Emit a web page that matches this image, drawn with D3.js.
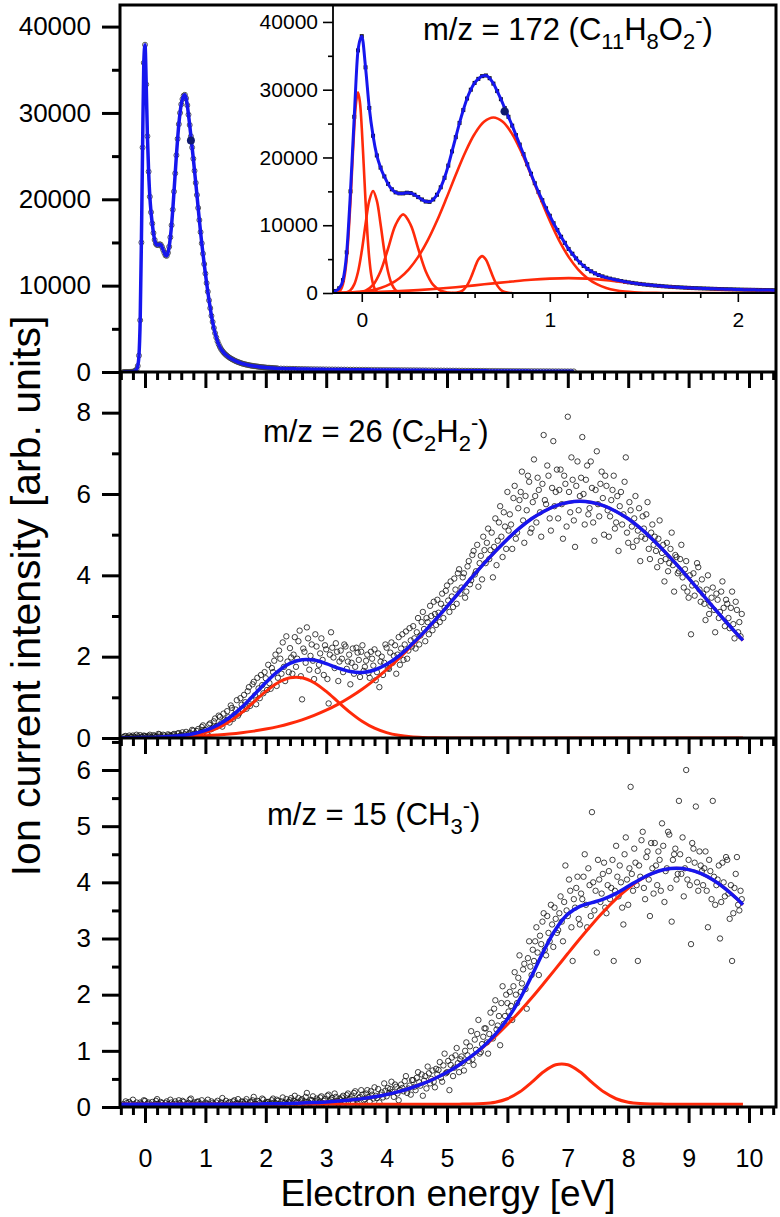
<!DOCTYPE html>
<html>
<head>
<meta charset="utf-8">
<script src="https://cdn.jsdelivr.net/npm/d3@7"></script>
<style>
  body { margin: 0; background: #fff; }
  svg { display: block; font-family: "Liberation Sans", Arial, sans-serif; }
</style>
</head>
<body>
<svg width="780" height="1217"></svg>
<script>
// ---------------- data ----------------
// m/z 172 spectrum, fine scan (-0.36 .. 2.20 eV, 0.02 eV step)
var scan172Start = -0.36, scan172Step = 0.02;
var counts172 = [
  0,0,0,0,0,0,10,20,40,80,
  150,300,700,1900,6000,15000,26000,35800,37900,33300,
  27300,23200,20300,18500,17200,16100,15300,14850,14700,14700,
  14800,14750,14500,14150,13800,13500,13450,13800,14500,15600,
  17000,18800,20900,23000,25100,27000,28700,30000,31000,31600,
  32000,32100,31700,30900,29800,28600,27300,26000,24700,23300,
  21900,20500,19000,17600,16200,14900,13700,12500,11400,10300,
  9300,8300,7400,6500,5800,5100,4500,4000,3550,3200,
  2900,2650,2450,2270,2120,1990,1870,1760,1660,1570,
  1490,1410,1340,1270,1210,1150,1100,1050,1000,960,
  920,880,850,820,790,760,730,710,690,670,
  650,630,610,590,575,560,545,530,515,500,
  490,480,470,460,450,440,430,420,410
];
// m/z 172 tail (2.25 .. 7.10 eV, 0.05 eV step)
var tail172Start = 2.25, tail172Step = 0.05;
var tail172 = [
  400,392,384,376,369,362,355,348,342,336,330,324,319,314,309,304,299,294,290,286,
  282,278,274,270,266,262,258,255,252,248,245,242,239,236,233,230,227,224,221,218,
  215,212,209,206,203,200,197,194,191,188,185,182,179,176,173,170,167,164,161,158,
  155,152,149,146,143,140,137,134,131,128,126,124,122,120,118,116,114,112,110,108,
  106,104,102,100,98,96,94,92,90,88,86,84,82,80,78,76,74,72
];
var marked172 = [0.76, 26800];

// fitted components of m/z 172 (inset), [energy, counts]
var comp172a = [[-0.16,0],[-0.15,8],[-0.14,26],[-0.13,80],[-0.12,224],[-0.11,567],[-0.10,1300],[-0.09,2710],[-0.08,5100],[-0.07,8730],[-0.06,13550],[-0.05,19070],[-0.04,24350],[-0.03,28190],[-0.02,29600],[-0.01,28190],[0.00,24350],[0.01,19070],[0.02,13550],[0.03,8730],[0.04,5100],[0.05,2710],[0.06,1300],[0.07,567],[0.08,224],[0.09,80],[0.10,26],[0.11,8],[0.12,0]];
var comp172b = [[-0.12,0],[-0.10,27],[-0.08,119],[-0.06,430],[-0.04,1270],[-0.02,3100],[0.00,6190],[0.02,10140],[0.04,13630],[0.06,15050],[0.08,13630],[0.10,10140],[0.12,6190],[0.14,3100],[0.16,1270],[0.18,430],[0.20,119],[0.22,27],[0.24,0]];
var comp172c = [[-0.06,11],[-0.02,70],[0.02,330],[0.06,1190],[0.10,3220],[0.14,6570],[0.18,10060],[0.22,11600],[0.26,10060],[0.30,6570],[0.34,3220],[0.38,1190],[0.42,330],[0.46,70],[0.50,11]];
var comp172d = [[0.48,10],[0.50,43],[0.52,156],[0.54,460],[0.56,1120],[0.58,2240],[0.60,3670],[0.62,4930],[0.64,5440],[0.66,4930],[0.68,3670],[0.70,2240],[0.72,1120],[0.74,460],[0.76,156],[0.78,43],[0.80,10]];
var comp172e = [[-0.15,20],[-0.10,47],[-0.05,100],[0.00,205],[0.05,400],[0.10,740],[0.15,1300],[0.20,2190],[0.25,3500],[0.30,5330],[0.35,7720],[0.40,10650],[0.45,13970],[0.50,17450],[0.55,20740],[0.60,23460],[0.65,25270],[0.70,25900],[0.75,25270],[0.80,23460],[0.85,20740],[0.90,17450],[0.95,13970],[1.00,10650],[1.05,7720],[1.10,5330],[1.15,3500],[1.20,2190],[1.25,1300],[1.30,740],[1.35,400],[1.40,205],[1.45,100],[1.50,47],[1.55,20],[1.60,8],[1.80,0],[2.20,0]];
var comp172f = [[-0.15,0],[0.0,80],[0.1,160],[0.2,280],[0.3,430],[0.4,620],[0.5,860],[0.6,1130],[0.7,1420],[0.8,1700],[0.9,1950],[1.0,2120],[1.1,2200],[1.2,2120],[1.3,1900],[1.4,1600],[1.5,1270],[1.6,980],[1.7,800],[1.8,670],[1.9,570],[2.0,500],[2.1,445],[2.2,400]];

// m/z 26 and m/z 15 scans (-0.36 .. 9.88 eV, 0.02 eV step)
var scanStart = -0.36, scanStep = 0.02;
var ions26 = [
  0.02,0.04,0.05,0.01,0.00,0.06,0.03,0.02,0.06,0.03,0.01,0.08,0.04,0.00,0.07,0.03,0.02,0.06,0.05,0.02,
  0.03,0.05,0.08,0.02,0.01,0.07,0.05,0.03,0.04,0.10,0.09,0.04,0.02,0.08,0.06,0.01,0.03,0.09,0.07,0.05,
  0.05,0.08,0.10,0.03,0.04,0.11,0.12,0.06,0.07,0.14,0.03,0.09,0.15,0.05,0.09,0.13,0.06,0.20,0.18,0.11,
  0.10,0.17,0.22,0.09,0.14,0.27,0.31,0.20,0.19,0.12,0.08,0.33,0.36,0.22,0.25,0.41,0.48,0.28,0.30,0.55,
  0.52,0.36,0.28,0.60,0.45,0.42,0.66,0.51,0.38,0.80,0.74,0.47,0.57,0.70,0.93,0.55,0.61,0.98,0.82,0.69,
  1.06,0.88,0.72,1.15,1.25,0.79,0.95,1.32,1.38,1.05,0.83,1.48,1.22,0.98,1.55,1.30,1.10,1.62,1.47,1.18,
  1.80,1.35,1.21,1.72,1.62,1.90,2.05,1.28,1.48,2.15,1.95,1.58,2.35,1.75,1.40,2.50,1.88,1.62,2.21,1.98,
  1.58,2.05,2.48,1.75,1.95,2.38,2.64,1.52,0.95,2.20,2.12,1.85,2.72,2.45,1.68,2.02,2.30,1.90,1.45,2.55,
  2.25,1.65,1.80,2.08,2.45,1.92,1.55,2.28,2.18,1.45,0.85,2.05,2.60,2.22,1.98,1.72,2.33,2.12,1.40,1.88,
  2.15,1.95,1.62,2.30,2.25,1.70,1.88,2.05,1.32,1.85,2.20,1.58,1.75,2.22,2.10,1.92,1.50,2.12,2.28,1.65,
  1.75,1.90,2.05,1.60,1.48,2.12,1.95,1.78,2.18,1.42,1.62,2.08,1.25,1.88,2.00,1.55,1.85,2.30,2.22,1.72,
  1.70,2.10,2.35,1.85,2.02,2.28,1.58,2.05,2.48,1.80,2.20,2.55,1.92,2.30,2.62,1.95,2.15,2.70,2.40,2.25,
  2.75,2.45,2.20,2.60,2.95,2.30,2.52,2.85,3.10,2.68,2.38,2.95,2.85,2.55,3.25,3.00,2.65,3.35,3.05,2.78,
  3.40,3.08,2.85,3.30,3.55,2.95,3.20,3.62,3.75,3.38,3.10,3.85,3.48,3.22,3.92,3.65,3.30,4.05,4.15,3.55,
  3.70,3.95,4.05,3.45,3.60,4.22,4.35,3.78,3.88,4.50,4.60,4.02,4.10,4.75,3.72,4.30,4.48,3.90,4.95,4.62,
  4.30,4.80,5.15,4.40,4.62,5.05,3.95,4.70,5.40,4.25,4.85,5.30,5.70,4.95,4.45,5.55,5.20,4.65,6.05,5.10,
  5.50,5.25,4.65,5.90,6.20,4.90,5.05,5.65,5.85,6.05,6.55,5.35,4.80,5.95,5.60,6.45,6.30,5.05,5.15,5.80,
  6.85,5.95,5.30,6.40,6.10,5.55,4.95,6.25,7.45,5.85,5.75,6.70,6.45,5.40,5.10,6.15,7.30,5.70,6.05,6.60,
  5.40,6.10,6.60,5.75,4.90,6.45,6.25,5.20,7.90,6.05,5.55,6.90,6.35,5.35,4.70,6.20,6.80,5.60,5.95,6.40,
  7.40,6.00,5.25,6.35,6.70,5.50,5.65,6.80,6.15,5.30,4.85,6.10,7.05,5.75,5.45,6.25,6.55,5.90,5.00,6.45,
  6.20,5.60,4.95,5.45,5.85,6.10,6.45,5.15,5.30,5.95,4.60,5.70,6.05,5.25,5.50,6.30,6.90,5.05,4.80,5.80,
  5.60,5.20,4.70,5.40,5.95,4.85,5.10,5.65,4.35,4.95,5.45,5.15,4.90,5.50,5.80,4.65,4.40,5.05,5.25,4.75,
  4.95,4.60,4.20,4.90,5.35,4.35,4.55,4.75,3.85,4.40,4.80,4.10,4.30,4.65,5.05,4.25,3.60,4.50,4.45,4.05,
  4.10,4.40,4.75,3.95,3.70,4.15,4.35,3.60,3.45,4.00,2.55,3.75,4.05,3.50,3.80,4.30,4.20,3.65,3.35,3.90,
  3.55,3.30,2.90,3.65,4.00,3.05,3.25,3.45,3.70,3.15,2.60,3.55,3.40,2.95,3.10,3.60,3.85,3.20,2.75,3.40,
  3.30,2.95,2.70,3.20,3.60,2.80,2.45,3.35,3.15,2.60,2.85,2.50,3.05
];
var ions15 = [
  0.05,0.03,0.10,0.07,0.02,0.09,0.06,0.01,0.13,0.05,0.04,0.08,0.00,0.04,0.08,0.06,0.03,0.12,0.11,0.02,
  0.06,0.08,0.01,0.04,0.09,0.02,0.05,0.11,0.14,0.06,0.03,0.09,0.07,0.03,0.00,0.07,0.10,0.05,0.04,0.13,
  0.08,0.05,0.02,0.10,0.06,0.03,0.12,0.07,0.04,0.11,0.09,0.02,0.01,0.06,0.07,0.13,0.15,0.04,0.05,0.08,
  0.03,0.09,0.10,0.05,0.06,0.12,0.00,0.04,0.08,0.06,0.13,0.02,0.04,0.10,0.07,0.05,0.02,0.08,0.11,0.03,
  0.05,0.08,0.16,0.04,0.06,0.11,0.02,0.07,0.09,0.03,0.04,0.10,0.12,0.06,0.07,0.14,0.01,0.05,0.10,0.09,
  0.06,0.10,0.14,0.04,0.03,0.09,0.08,0.12,0.18,0.06,0.05,0.11,0.10,0.07,0.02,0.15,0.13,0.05,0.07,0.09,
  0.09,0.06,0.04,0.12,0.15,0.08,0.07,0.13,0.11,0.05,0.02,0.10,0.17,0.07,0.08,0.14,0.05,0.09,0.12,0.16,
  0.06,0.11,0.20,0.08,0.09,0.16,0.03,0.12,0.14,0.07,0.10,0.18,0.25,0.09,0.07,0.13,0.12,0.19,0.04,0.10,
  0.15,0.12,0.08,0.17,0.19,0.07,0.11,0.14,0.05,0.20,0.22,0.10,0.13,0.16,0.09,0.24,0.18,0.11,0.06,0.15,
  0.12,0.17,0.20,0.11,0.08,0.21,0.24,0.14,0.15,0.19,0.10,0.25,0.28,0.13,0.06,0.16,0.18,0.30,0.22,0.12,
  0.14,0.24,0.30,0.18,0.10,0.28,0.22,0.15,0.35,0.20,0.16,0.32,0.08,0.22,0.26,0.17,0.42,0.29,0.19,0.34,
  0.25,0.32,0.45,0.27,0.18,0.40,0.36,0.24,0.12,0.30,0.40,0.34,0.28,0.46,0.55,0.25,0.33,0.38,0.22,0.48,
  0.48,0.36,0.30,0.52,0.62,0.44,0.38,0.58,0.20,0.47,0.55,0.33,0.72,0.60,0.42,0.50,0.65,0.45,0.35,0.68,
  0.58,0.66,0.80,0.52,0.45,0.74,0.95,0.60,0.62,0.82,0.30,0.75,0.88,0.55,0.70,0.92,1.05,0.78,0.62,0.85,
  0.90,0.78,0.65,1.00,1.15,0.92,0.82,1.08,1.35,0.85,0.75,1.20,1.02,1.30,1.55,0.95,0.98,1.12,1.25,1.40,
  1.40,1.15,0.95,1.30,1.68,1.50,1.22,1.75,1.90,1.38,1.45,1.62,1.10,1.85,2.15,1.48,1.62,2.00,1.85,1.70,
  2.05,1.80,1.55,2.15,2.40,2.00,1.85,2.30,2.70,2.05,2.20,2.45,2.55,2.10,1.75,2.65,2.95,2.50,2.35,2.80,
  2.60,2.95,3.20,2.75,2.35,3.05,2.90,3.30,3.45,2.80,2.70,3.40,3.10,2.95,3.60,3.25,2.85,3.55,3.35,3.10,
  3.15,3.45,3.75,3.30,2.95,3.65,4.30,3.50,3.40,4.05,3.85,3.20,2.60,3.70,3.55,3.90,4.10,3.35,3.25,3.80,
  3.70,4.10,4.50,3.60,3.20,4.25,3.95,3.40,5.25,4.00,3.50,3.85,2.75,4.40,4.05,3.65,3.80,4.15,4.35,3.55,
  3.45,3.95,4.20,3.70,3.90,4.40,2.60,3.85,4.65,4.10,3.75,4.30,4.00,3.55,3.25,4.50,4.80,4.05,3.60,4.25,
  5.70,4.15,3.85,4.60,4.35,3.95,2.60,4.30,4.10,4.75,4.90,3.90,3.70,4.45,4.55,4.05,3.40,4.70,4.25,3.80,
  4.70,4.30,3.95,4.55,4.40,3.85,5.05,4.65,3.65,4.20,4.25,4.90,4.85,3.90,3.30,4.40,4.50,4.60,4.05,4.15,
  5.45,4.50,4.15,4.80,3.75,4.25,6.00,4.05,4.40,3.95,2.90,4.70,4.60,4.35,5.35,4.00,3.85,4.55,4.30,4.20,
  3.95,4.25,4.55,3.85,3.20,4.40,4.20,3.70,5.45,4.10,3.60,3.95,4.05,4.30,3.00,3.65,4.35,4.00,3.75,4.45,
  4.40,3.80,3.35,3.95,2.60,3.45,3.90,4.15,4.45,3.60,3.50,3.85,3.70
];

// fit curves for m/z 26 and m/z 15, read at these energies
var fitEnergy = [-0.4,-0.2,0,0.2,0.4,0.6,0.8,1,1.2,1.4,1.6,1.8,2,2.2,2.4,2.6,2.8,3,3.2,3.4,3.6,3.8,4,4.2,4.4,4.6,4.8,5,5.2,5.4,5.6,5.8,6,6.2,6.4,6.6,6.8,7,7.2,7.4,7.6,7.8,8,8.2,8.4,8.6,8.8,9,9.2,9.4,9.6,9.8,9.9];
var fit26Peak1 = [0,0.001,0.002,0.005,0.013,0.030,0.066,0.132,0.241,0.406,0.625,0.883,1.145,1.36,1.48,1.48,1.36,1.145,0.883,0.625,0.406,0.241,0.132,0.066,0.030,0.013,0.005,0.002,
  0,0,0,0,0,0,0,0,0,0,0,0,0,0,0,0,0,0,0,0,0,0,0,0,0];
var fit26Peak2 = [0.005,0.008,0.011,0.015,0.021,0.029,0.040,0.055,0.074,0.098,0.129,0.169,0.219,0.280,0.356,0.446,0.556,0.684,0.834,1.009,1.207,1.431,1.68,1.95,2.25,2.56,2.89,3.23,
  3.58,3.93,4.27,4.59,4.89,5.16,5.39,5.57,5.71,5.79,5.82,5.79,5.71,5.57,5.39,5.16,4.89,4.59,4.27,3.93,3.58,3.23,2.89,2.56,2.40];
var fit26Total = [0.005,0.009,0.013,0.020,0.034,0.059,0.106,0.187,0.315,0.504,0.754,1.052,1.364,1.64,1.836,1.926,1.916,1.829,1.717,1.634,1.613,1.672,1.812,2.016,2.28,2.573,2.895,3.232,
  3.58,3.93,4.27,4.59,4.89,5.16,5.39,5.57,5.71,5.79,5.82,5.79,5.71,5.57,5.39,5.16,4.89,4.59,4.27,3.93,3.58,3.23,2.89,2.56,2.40];
var fit15Peak1 = [0.05,0.05,0.05,0.05,0.05,0.05,0.05,0.05,0.05,0.05,0.05,0.05,
  0.057,0.060,0.064,0.071,0.079,0.090,0.105,0.124,0.149,0.182,0.223,0.274,0.338,0.415,0.508,0.618,
  0.748,0.897,1.067,1.257,1.468,1.697,1.941,2.199,2.464,2.732,2.996,3.251,3.491,3.707,3.894,4.045,4.158,4.227,
  4.25,4.227,4.158,4.045,3.894,3.707,3.602];
var fit15Peak2 = [0.05,0.05,0.05,0.05,0.05,0.05,0.05,0.05,0.05,0.05,0.05,0.05,0.05,0.05,0.05,0.05,0.05,0.05,0.05,0.05,0.05,0.05,0.05,0.05,0.05,0.05,0.05,0.05,
  0.051,0.053,0.061,0.086,0.147,0.265,0.438,0.627,0.752,0.752,0.627,0.438,0.265,0.147,0.086,0.061,0.053,0.051,
  0.05,0.05,0.05,0.05,0.05,0.05,0.05];
var fit15Total = [0.05,0.05,0.05,0.05,0.05,0.05,0.05,0.05,0.05,0.05,0.05,0.05,
  0.057,0.060,0.064,0.071,0.079,0.090,0.105,0.124,0.149,0.182,0.223,0.274,0.338,0.415,0.508,0.618,
  0.749,0.900,1.078,1.293,1.565,1.912,2.329,2.776,3.166,3.434,3.573,3.639,3.706,3.804,3.930,4.056,4.161,4.228,
  4.25,4.227,4.158,4.045,3.894,3.707,3.602];

// ---------------- layout ----------------
var blue = "#1616ee", red = "#ff2a0a";
var L = 120, R = 776, T = 5;
var yCut = [372, 738, 1107];

var svg = d3.select("svg");
var defs = svg.append("defs");

var x = d3.scaleLinear().domain([-0.414, 10.447]).range([L, R]);
var yTop = d3.scaleLinear().domain([0, 42500]).range([yCut[0], T]);
var yMid = d3.scaleLinear().domain([0, 9.0]).range([yCut[1], yCut[0]]);
var yBot = d3.scaleLinear().domain([0, 6.57]).range([yCut[2], yCut[1]]);
var xIn = d3.scaleLinear().domain([-0.153, 2.203]).range([333, R]);
var yIn = d3.scaleLinear().domain([0, 42500]).range([293, T]);

function clip(id, x0, y0, w, h) {
  defs.append("clipPath").attr("id", id).append("rect")
    .attr("x", x0).attr("y", y0).attr("width", w).attr("height", h);
}
clip("cTop", L, T, R - L, yCut[0] - T);
clip("cMid", L, yCut[0], R - L, yCut[1] - yCut[0]);
clip("cBot", L, yCut[1], R - L, yCut[2] - yCut[1]);
clip("cIn", 333, T, R - 333, 293 - T);

var pts172 = counts172.map(function(v, i) { return [scan172Start + i * scan172Step, v]; })
  .concat(tail172.map(function(v, i) { return [tail172Start + i * tail172Step, v]; }));
var pts26 = ions26.map(function(v, i) { return [scanStart + i * scanStep, v]; });
var pts15 = ions15.map(function(v, i) { return [scanStart + i * scanStep, v]; });
function pairs(arr) { return fitEnergy.map(function(e, i) { return [e, arr[i]]; }); }

function lineOf(sx, sy, smooth) {
  return d3.line().x(function(d) { return sx(d[0]); }).y(function(d) { return sy(d[1]); })
    .curve(smooth ? d3.curveCatmullRom.alpha(0.5) : d3.curveMonotoneX);
}

// ---------- top panel (m/z 172, full range) ----------
var gTop = svg.append("g").attr("clip-path", "url(#cTop)");
gTop.selectAll("circle").data(pts172).enter().append("circle")
  .attr("cx", function(d) { return x(d[0]); })
  .attr("cy", function(d) { return yTop(d[1]); })
  .attr("r", 2.5).attr("fill", "none").attr("stroke", "#444").attr("stroke-width", 0.9);
gTop.append("path").datum(pts172).attr("d", lineOf(x, yTop))
  .attr("fill", "none").attr("stroke", blue).attr("stroke-width", 3.5);
gTop.append("circle").attr("cx", x(marked172[0])).attr("cy", yTop(marked172[1]))
  .attr("r", 4).attr("fill", "#101a70");

// ---------- middle (m/z 26) and bottom (m/z 15) panels ----------
function scatterPanel(clipId, pts, sy, comps, total) {
  var g = svg.append("g").attr("clip-path", "url(#" + clipId + ")");
  g.selectAll("circle").data(pts).enter().append("circle")
    .attr("cx", function(d) { return x(d[0]); })
    .attr("cy", function(d) { return sy(d[1]); })
    .attr("r", 2.7).attr("fill", "none").attr("stroke", "#111").attr("stroke-width", 0.8);
  comps.forEach(function(c) {
    g.append("path").datum(pairs(c)).attr("d", lineOf(x, sy, true))
      .attr("fill", "none").attr("stroke", red).attr("stroke-width", 3);
  });
  g.append("path").datum(pairs(total)).attr("d", lineOf(x, sy, true))
    .attr("fill", "none").attr("stroke", blue).attr("stroke-width", 3.5);
}
scatterPanel("cMid", pts26, yMid, [fit26Peak1, fit26Peak2], fit26Total);
scatterPanel("cBot", pts15, yBot, [fit15Peak1, fit15Peak2], fit15Total);

// ---------- axes ----------
function styleAxis(g, w) {
  g.select(".domain").remove();
  g.selectAll(".tick line").attr("stroke", "#000").attr("stroke-width", w);
  g.selectAll("text").attr("fill", "#000");
}
var majorX = d3.range(0, 11);
var minorX = d3.range(-4, 105, 2).map(function(v) { return v / 10; })
  .filter(function(v) { return Math.abs(v - Math.round(v)) > 1e-6; });

yCut.forEach(function(yy, k) {
  var gm = svg.append("g").attr("transform", "translate(0," + yy + ")")
    .call(d3.axisBottom(x).tickValues(majorX).tickSize(16).tickPadding(26)
      .tickFormat(k === 2 ? d3.format("d") : function() { return ""; }));
  styleAxis(gm, 3);
  gm.selectAll("text").attr("font-size", 25);
  var gn = svg.append("g").attr("transform", "translate(0," + yy + ")")
    .call(d3.axisBottom(x).tickValues(minorX).tickSize(8).tickFormat(""));
  styleAxis(gn, 3);
});

function leftAxis(sy, major, minor, fmt) {
  var g1 = svg.append("g").attr("transform", "translate(" + L + ",0)")
    .call(d3.axisLeft(sy).tickValues(major).tickSize(18).tickPadding(11).tickFormat(fmt));
  styleAxis(g1, 3);
  g1.selectAll("text").attr("font-size", 26);
  var g2 = svg.append("g").attr("transform", "translate(" + L + ",0)")
    .call(d3.axisLeft(sy).tickValues(minor).tickSize(8).tickFormat(""));
  styleAxis(g2, 3);
}
leftAxis(yTop, [0, 10000, 20000, 30000, 40000], [5000, 15000, 25000, 35000], d3.format("d"));
leftAxis(yMid, [0, 2, 4, 6, 8], [1, 3, 5, 7], d3.format("d"));
leftAxis(yBot, [0, 1, 2, 3, 4, 5, 6], [0.5, 1.5, 2.5, 3.5, 4.5, 5.5, 6.5], d3.format("d"));

// ---------- inset ----------
svg.append("rect").attr("x", 333).attr("y", T).attr("width", R - 333).attr("height", 293 - T)
  .attr("fill", "#fff");
var gIn = svg.append("g").attr("clip-path", "url(#cIn)");
gIn.selectAll("rect.dot").data(counts172.map(function(v, i) { return [scan172Start + i * scan172Step, v]; }))
  .enter().append("rect").attr("class", "dot")
  .attr("x", function(d) { return xIn(d[0]) - 2; })
  .attr("y", function(d) { return yIn(d[1]) - 2; })
  .attr("width", 4).attr("height", 4).attr("fill", "#111");
[comp172a, comp172b, comp172c, comp172d, comp172e, comp172f].forEach(function(c) {
  gIn.append("path").datum(c).attr("d", lineOf(xIn, yIn, true))
    .attr("fill", "none").attr("stroke", red).attr("stroke-width", 2.6);
});
gIn.append("path").datum(pts172).attr("d", lineOf(xIn, yIn))
  .attr("fill", "none").attr("stroke", blue).attr("stroke-width", 3);
gIn.append("circle").attr("cx", xIn(marked172[0])).attr("cy", yIn(marked172[1]))
  .attr("r", 4.2).attr("fill", "#101a70");

var giy = svg.append("g").attr("transform", "translate(333,0)")
  .call(d3.axisLeft(yIn).tickValues([0, 10000, 20000, 30000, 40000]).tickSize(10).tickPadding(5).tickFormat(d3.format("d")));
styleAxis(giy, 1.6);
giy.selectAll("text").attr("font-size", 21);
var giy2 = svg.append("g").attr("transform", "translate(333,0)")
  .call(d3.axisLeft(yIn).tickValues([5000, 15000, 25000, 35000]).tickSize(5).tickFormat(""));
styleAxis(giy2, 1.6);
var gix = svg.append("g").attr("transform", "translate(0,293)")
  .call(d3.axisBottom(xIn).tickValues([0, 1, 2]).tickSize(9).tickPadding(10).tickFormat(d3.format("d")));
styleAxis(gix, 1.6);
gix.selectAll("text").attr("font-size", 21);
var gix2 = svg.append("g").attr("transform", "translate(0,293)")
  .call(d3.axisBottom(xIn).tickValues([0.2, 0.4, 0.6, 0.8, 1.2, 1.4, 1.6, 1.8]).tickSize(5).tickFormat(""));
styleAxis(gix2, 1.6);
svg.append("path").attr("d", "M333," + T + "V293H" + R)
  .attr("fill", "none").attr("stroke", "#000").attr("stroke-width", 1.8);

// ---------- frame ----------
svg.append("rect").attr("x", L).attr("y", T).attr("width", R - L).attr("height", yCut[2] - T)
  .attr("fill", "none").attr("stroke", "#000").attr("stroke-width", 3);
yCut.slice(0, 2).forEach(function(yy) {
  svg.append("line").attr("x1", L).attr("x2", R).attr("y1", yy).attr("y2", yy)
    .attr("stroke", "#000").attr("stroke-width", 3);
});

// ---------- labels ----------
function formula(xp, yp, parts) {
  var t = svg.append("text").attr("x", xp).attr("y", yp).attr("font-size", 31).attr("fill", "#000");
  var level = 0;
  parts.forEach(function(p) {
    var target = p[1] === "sub" ? 9 : p[1] === "sup" ? -12 : 0;
    t.append("tspan").attr("dy", target - level)
      .attr("font-size", p[1] ? 22 : 31).text(p[0]);
    level = target;
  });
}
formula(423, 40, [["m/z = 172 (C"], ["11", "sub"], ["H"], ["8", "sub"], ["O"], ["2", "sub"], ["-", "sup"], [")"]]);
formula(263, 442, [["m/z = 26 (C"], ["2", "sub"], ["H"], ["2", "sub"], ["-", "sup"], [")"]]);
formula(267, 825, [["m/z = 15 (CH"], ["3", "sub"], ["-", "sup"], [")"]]);

svg.append("text").attr("x", 448).attr("y", 1206).attr("text-anchor", "middle")
  .attr("font-size", 37).text("Electron energy [eV]");
svg.append("text").attr("transform", "translate(40,596) rotate(-90)").attr("text-anchor", "middle")
  .attr("font-size", 41).text("Ion current intensity [arb. units]");
</script>
</body>
</html>
